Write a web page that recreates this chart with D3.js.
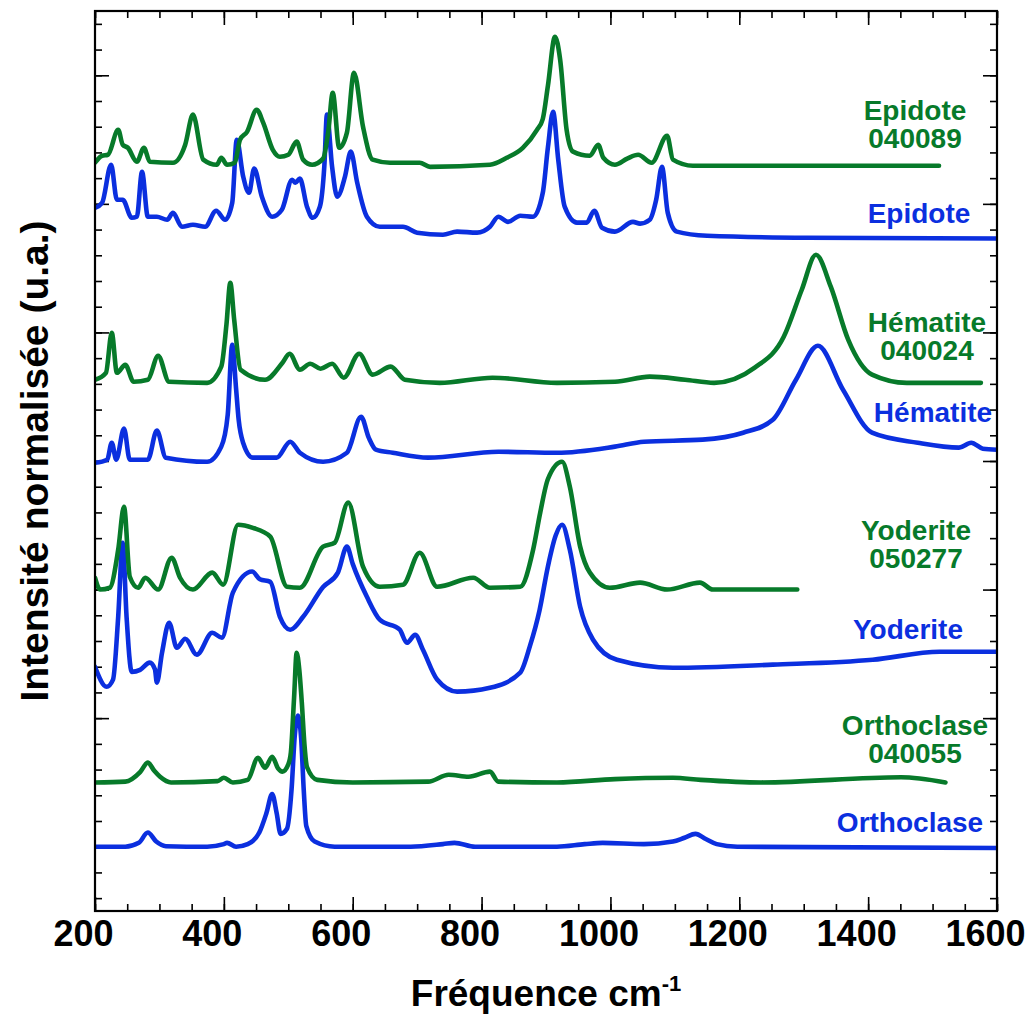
<!DOCTYPE html>
<html><head><meta charset="utf-8">
<script src="https://cdn.jsdelivr.net/npm/d3@7"></script>
<style>body{margin:0;background:#fff}svg{display:block}text{font-family:"Liberation Sans",Arial,sans-serif;font-weight:bold}</style>
</head><body><svg id="c" width="1028" height="1017"></svg>
<script>
// Raman spectra, [wavenumber cm-1, stacked normalised intensity]
const orthoclase = [[200,0],[247,0],[268,0.15],[282,0.55],[295,0.2],[310,0.02],[374,0],[400,0.1],[405,0.15],[419,0],[437,0.1],[455,0.55],[466,1.3],[475,2.05],[482,1.3],[488,0.5],[498,0.7],[505,2.2],[510,4.3],[515,5.1],[520,4.2],[524,2.2],[528,0.8],[541,0.2],[572,0],[690,0],[740,0.1],[758,0.15],[790,0],[917,0],[960,0.1],[988,0.15],[1052,0.1],[1097,0.2],[1115,0.35],[1132,0.5],[1148,0.3],[1165,0.1],[1197,0],[1600,-0.05]];
const orthoclase040055 = [[200,2.5],[247,2.53],[270,2.9],[282,3.27],[292,2.95],[301,2.72],[318,2.5],[390,2.55],[400,2.68],[414,2.5],[437,2.6],[453,3.46],[464,3.07],[475,3.5],[484,3.05],[491,2.92],[500,3.2],[504,3.66],[509,5.8],[513,7.54],[517,6.9],[521,5.6],[525,4.0],[529,3.1],[545,2.6],[600,2.5],[717,2.53],[749,2.8],[780,2.72],[813,2.92],[826,2.53],[917,2.5],[1007,2.63],[1097,2.68],[1140,2.6],[1234,2.5],[1451,2.7],[1520,2.5]];
const yoderite = [[200,7.0],[218,6.22],[228,6.5],[236,8.94],[243,11.82],[249,8.94],[257,6.8],[270,6.88],[285,7.16],[293,6.9],[296,6.38],[304,7.54],[315,8.71],[327,7.74],[340,8.09],[358,7.47],[382,8.32],[397,8.13],[414,9.88],[444,10.7],[456,10.4],[472,10.3],[487,8.94],[503,8.44],[523,8.94],[554,10.1],[577,10.66],[591,11.67],[600,11.0],[622,9.72],[642,8.83],[673,8.44],[684,7.93],[697,8.24],[709,7.66],[731,6.5],[762,6.03],[813,6.18],[860,6.77],[875,7.8],[890,9.2],[903,10.9],[915,12.1],[925,12.52],[937,11.55],[953,9.33],[973,8.05],[1010,7.27],[1097,6.96],[1252,7.08],[1407,7.27],[1511,7.58],[1600,7.58]];
const yoderite050277 = [[200,10.46],[208,10.0],[223,10.07],[236,11.55],[245,13.22],[254,10.5],[267,10.07],[278,10.46],[298,10.0],[319,11.24],[332,10.46],[352,10.0],[382,10.66],[399,10.19],[422,12.52],[445,12.4],[472,12.06],[498,10.11],[518,10.07],[554,11.67],[572,11.82],[593,13.38],[616,10.89],[642,10.11],[678,10.19],[704,11.43],[731,10.11],[787,10.46],[813,10.07],[860,10.11],[880,11.55],[891,12.99],[903,14.3],[925,14.97],[937,14.0],[953,11.67],[968,10.66],[999,10.07],[1046,10.27],[1088,10.0],[1139,10.27],[1159,10.0],[1290,10.0]];
const hematite = [[200,14.93],[219,15.05],[226,15.71],[233,15.05],[245,16.26],[254,15.05],[282,15.05],[296,16.18],[310,15.13],[374,14.97],[396,15.56],[406,16.8],[413,19.52],[419,17.8],[423,16.6],[430,15.7],[445,15.13],[482,15.13],[503,15.75],[518,15.32],[554,14.97],[591,15.32],[613,16.72],[625,15.9],[636,15.44],[662,15.32],[717,15.13],[826,15.36],[917,15.32],[1007,15.56],[1052,15.75],[1143,15.83],[1206,16.1],[1252,16.6],[1288,18.16],[1322,19.48],[1361,17.77],[1406,16.1],[1477,15.71],[1541,15.52],[1560,15.71],[1578,15.48],[1600,15.44]];
const hematite040024 = [[200,18.16],[217,18.43],[226,19.99],[234,18.43],[247,18.74],[260,18.08],[282,18.16],[298,19.09],[315,18.08],[374,18.04],[396,18.67],[404,20.3],[410,21.93],[416,20.5],[426,18.55],[464,18.16],[491,18.82],[502,19.17],[518,18.55],[534,18.78],[550,18.59],[568,18.78],[586,18.24],[610,19.17],[631,18.36],[659,18.67],[681,18.16],[735,18.04],[817,18.24],[917,18.04],[1007,18.08],[1061,18.28],[1116,18.16],[1161,18.04],[1224,18.63],[1269,19.83],[1297,21.66],[1319,23.02],[1342,21.78],[1369,19.72],[1406,18.36],[1460,18.04],[1575,18.04]];
const epidote = [[200,24.85],[211,25.04],[225,26.52],[234,25.16],[243,25.16],[257,24.46],[265,24.5],[273,26.25],[282,24.5],[296,24.5],[312,24.38],[321,24.65],[335,24.11],[352,24.19],[371,24.11],[388,24.73],[402,24.38],[413,25.04],[420,27.49],[430,26.06],[439,25.43],[447,26.37],[459,25.28],[475,24.5],[490,24.77],[506,25.94],[511,25.82],[518,25.98],[529,24.89],[538,24.46],[549,24.89],[556,26.5],[560,28.47],[568,26.44],[576,25.28],[588,26.06],[597,27.03],[607,25.82],[622,24.5],[642,24.11],[678,24.11],[700,23.88],[740,23.8],[762,23.92],[793,23.88],[813,24.11],[826,24.5],[841,24.3],[860,24.54],[880,24.5],[895,25.43],[903,27.2],[911,28.58],[919,26.72],[929,24.89],[948,24.27],[963,24.27],[975,24.73],[987,24.07],[1007,23.92],[1035,24.3],[1046,24.23],[1061,24.38],[1071,25.16],[1080,26.44],[1089,24.65],[1103,23.92],[1150,23.76],[1305,23.68],[1600,23.65]];
const epidote040089 = [[200,26.6],[211,26.87],[220,26.91],[236,27.88],[243,27.3],[251,27.18],[265,26.64],[276,27.18],[285,26.64],[321,26.6],[340,27.3],[352,28.47],[368,26.72],[389,26.52],[396,26.79],[405,26.52],[417,26.6],[425,27.49],[436,27.8],[451,28.66],[461,28.16],[476,27.1],[487,26.83],[500,26.91],[513,27.42],[523,26.72],[537,26.52],[554,26.76],[562,27.8],[569,29.32],[579,27.18],[591,27.77],[602,30.1],[616,28.0],[631,26.72],[658,26.6],[704,26.6],[720,26.44],[813,26.52],[839,26.79],[864,27.18],[886,27.88],[895,28.3],[903,29.6],[914,31.5],[922,30.6],[932,27.88],[942,27.03],[968,26.87],[981,27.3],[989,26.79],[1007,26.52],[1026,26.76],[1043,26.91],[1064,26.6],[1088,27.65],[1097,26.72],[1128,26.48],[1510,26.48]];

const seriesNames = ["Orthoclase","Orthoclase 040055","Yoderite","Yoderite 050277","Hématite","Hématite 040024","Epidote","Epidote 040089"];
const seriesData = [orthoclase, orthoclase040055, yoderite, yoderite050277, hematite, hematite040024, epidote, epidote040089];
const seriesKind = ["ref","sample","ref","sample","ref","sample","ref","sample"];
const xMajorTicks = [200,400,600,800,1000,1200,1400,1600];
const xTitle = "Fréquence cm";
const xTitleSup = "-1";
const yTitle = "Intensité normalisée (u.a.)";

const GREEN = "#077a2a", BLUE = "#0b2fdf";
const svg = d3.select("#c");
const L = 95, R = 997, T = 11, B = 911;
const x = d3.scaleLinear([200,1600],[L,R]);
const y = d3.scaleLinear([-2.5,32.5],[B,T]);

svg.append("defs").append("clipPath").attr("id","clip")
  .append("rect").attr("x",L).attr("y",T).attr("width",R-L).attr("height",B-T);

// axes (ticks inside)
const xMinor = d3.range(200,1601,50);
const yMinor = d3.range(-2,33,1);
const yMajor = d3.range(0,31,5);
function styleAxis(g){ g.select(".domain").remove(); g.selectAll("line").attr("stroke","#000").attr("stroke-width",1.6); }
svg.append("g").attr("transform",`translate(0,${B})`).call(d3.axisBottom(x).tickValues(xMinor).tickSize(-7).tickFormat("")).call(styleAxis);
svg.append("g").attr("transform",`translate(0,${T})`).call(d3.axisTop(x).tickValues(xMinor).tickSize(-7).tickFormat("")).call(styleAxis);
svg.append("g").attr("transform",`translate(0,${T})`).call(d3.axisTop(x).tickValues(xMajorTicks).tickSize(-14).tickFormat("")).call(styleAxis);
const xb = svg.append("g").attr("transform",`translate(0,${B})`)
  .call(d3.axisBottom(x).tickValues(xMajorTicks).tickSize(-14).tickPadding(9).tickFormat(d3.format("d"))).call(styleAxis);
xb.selectAll("text").attr("font-size",36).attr("fill","#000").attr("dx",-12)
  .style("font-family",'"Liberation Sans",Arial,sans-serif').style("font-weight","bold");
svg.append("g").attr("transform",`translate(${L},0)`).call(d3.axisLeft(y).tickValues(yMinor).tickSize(-7).tickFormat("")).call(styleAxis);
svg.append("g").attr("transform",`translate(${L},0)`).call(d3.axisLeft(y).tickValues(yMajor).tickSize(-14).tickFormat("")).call(styleAxis);
svg.append("g").attr("transform",`translate(${R},0)`).call(d3.axisRight(y).tickValues(yMinor).tickSize(-7).tickFormat("")).call(styleAxis);
svg.append("g").attr("transform",`translate(${R},0)`).call(d3.axisRight(y).tickValues(yMajor).tickSize(-14).tickFormat("")).call(styleAxis);

// lines
const line = d3.line().x(d=>x(d[0])).y(d=>y(d[1])).curve(d3.curveMonotoneX);
const gl = svg.append("g").attr("clip-path","url(#clip)");
seriesData.forEach((s,i)=>{
  gl.append("path").datum(s).attr("d",line).attr("fill","none")
    .attr("stroke", seriesKind[i]==="ref"?BLUE:GREEN).attr("stroke-width",4.6)
    .attr("stroke-linejoin","round").attr("stroke-linecap","round");
});

// frame
svg.append("rect").attr("x",L).attr("y",T).attr("width",R-L).attr("height",B-T)
  .attr("fill","none").attr("stroke","#000").attr("stroke-width",2.2);

// series labels
const labelPos = [[910,832],[915,735],[908,639],[916,540],[933,422],[927,332],[919,223],[915,120]];
seriesNames.forEach((n,i)=>{
  const parts = n.split(" ");
  const t = svg.append("text").attr("x",labelPos[i][0]).attr("y",labelPos[i][1])
    .attr("text-anchor","middle").attr("font-size",28)
    .attr("fill", seriesKind[i]==="ref"?BLUE:GREEN);
  parts.forEach((p,k)=>t.append("tspan").attr("x",labelPos[i][0]).attr("dy",k===0?0:28).text(p));
});

// titles
const xt = svg.append("text").attr("x",(L+R)/2).attr("y",1006).attr("text-anchor","middle").attr("font-size",37).attr("fill","#000");
xt.append("tspan").text(xTitle);
xt.append("tspan").attr("font-size",22).attr("dy",-15).text(xTitleSup);
svg.append("text").attr("transform",`translate(48,${(T+B)/2}) rotate(-90)`).attr("text-anchor","middle")
  .attr("font-size",39).attr("fill","#000").text(yTitle);
</script></body></html>
